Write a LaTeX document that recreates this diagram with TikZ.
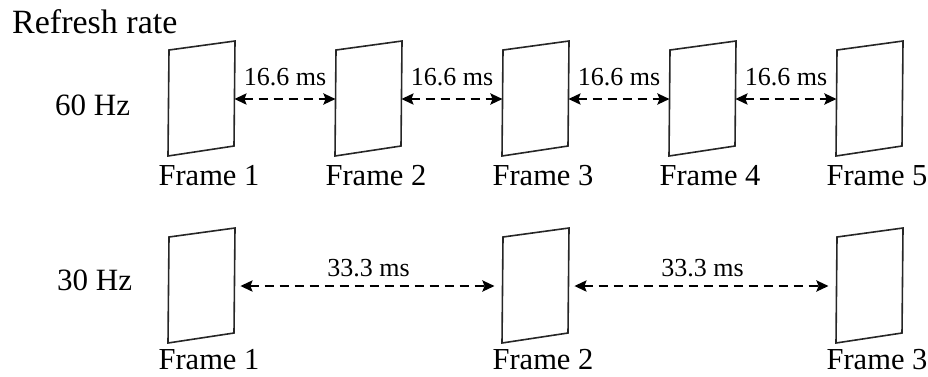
\documentclass[tikz,border=0pt]{standalone}
\usepackage{fontspec}
\setmainfont{Liberation Serif}
\usetikzlibrary{arrows.meta}
\tikzset{
  framestyle/.style={draw=black!85, line width=1.6pt, line join=miter},
  framelabel/.style={anchor=base, inner sep=0pt, font=\fontsize{30.5}{33}\selectfont},
  ratelabel/.style={anchor=base west, inner sep=0pt, font=\fontsize{31}{34}\selectfont},
  titlelabel/.style={anchor=base west, inner sep=0pt, font=\fontsize{34}{37}\selectfont},
  mslabel/.style={anchor=base, inner sep=0pt, font=\fontsize{26}{29}\selectfont},
  interval/.style={line width=2.6pt, dash pattern=on 9pt off 6pt, {Stealth[length=12pt,width=11pt,inset=2pt]}-{Stealth[length=12pt,width=11pt,inset=2pt]}},
}
\newcommand{\myframe}[5]{%
  \draw[framestyle] (#2+1,#3+9) -- (#2+67,#3) -- (#2+66,#3+105) -- (#2,#3+115) -- cycle;
  \coordinate (#1l) at (#2+0.5,#3+58);
  \coordinate (#1r) at (#2+66.4,#3+58);
  \node[framelabel] (#1t) at (#2+41,#5) {#4};
}
\begin{document}
\begin{tikzpicture}[x=1pt,y=-1pt]
\useasboundingbox (0,0) rectangle (928,376);
\node[titlelabel] (title) at (12,33) {Refresh rate};
\node[ratelabel] (r60) at (55,115) {60 Hz};
\node[ratelabel] (r30) at (57,290) {30 Hz};
% row 1
\myframe{a1}{168}{41}{Frame 1}{185}
\myframe{a2}{335}{41}{Frame 2}{185}
\myframe{a3}{502}{41}{Frame 3}{185}
\myframe{a4}{669}{41}{Frame 4}{185}
\myframe{a5}{836}{41}{Frame 5}{185}
\draw[interval] (a1r) -- (a2l) node[mslabel, midway, yshift=14pt] (m1) {16.6 ms};
\draw[interval] (a2r) -- (a3l) node[mslabel, midway, yshift=14pt] (m2) {16.6 ms};
\draw[interval] (a3r) -- (a4l) node[mslabel, midway, yshift=14pt] (m3) {16.6 ms};
\draw[interval] (a4r) -- (a5l) node[mslabel, midway, yshift=14pt] (m4) {16.6 ms};
% row 2
\myframe{b1}{168}{228}{Frame 1}{369}
\myframe{b2}{502}{228}{Frame 2}{369}
\myframe{b3}{836}{228}{Frame 3}{369}
\draw[interval, shorten <=6pt, shorten >=8pt] (b1r) -- (b2l) node[mslabel, midway, yshift=10pt] (n1) {33.3 ms};
\draw[interval, shorten <=6pt, shorten >=8pt] (b2r) -- (b3l) node[mslabel, midway, yshift=10pt] (n2) {33.3 ms};
\end{tikzpicture}
\end{document}
